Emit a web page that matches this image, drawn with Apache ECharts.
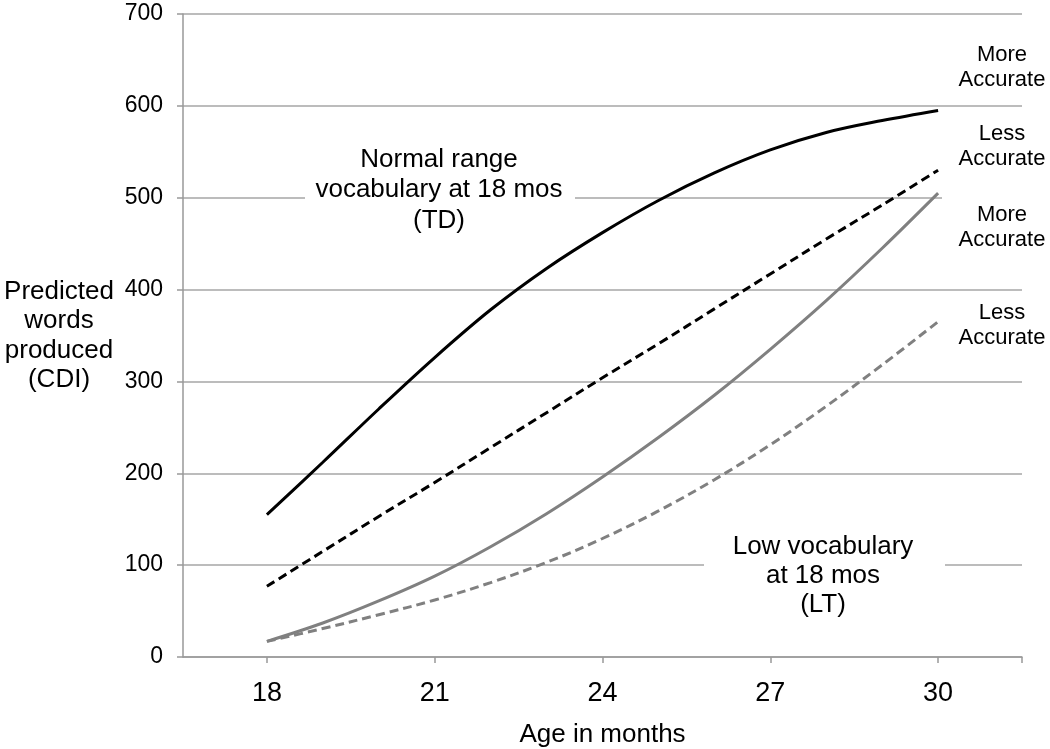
<!DOCTYPE html>
<html>
<head>
<meta charset="utf-8">
<script src="https://cdn.jsdelivr.net/npm/echarts@6/dist/echarts.min.js"></script>
<style>
  html, body { margin: 0; padding: 0; background: #fff; }
  #chart { width: 1050px; height: 749px; }
</style>
</head>
<body>
<div id="chart"></div>
<script>
// ---- Data ----
const months = [18, 19, 20, 21, 22, 23, 24, 25, 26, 27, 28, 29, 30];
const tdMoreAccurate = [155, 212, 270, 326, 378, 423, 462, 497, 527, 552, 571, 584, 595];
const tdLessAccurate = [77, 115, 153, 190, 228, 266, 304, 341, 379, 417, 455, 492, 530];
const ltMoreAccurate = [17, 37, 61, 88, 120, 156, 196, 239, 285, 335, 388, 445, 505];
const ltLessAccurate = [17, 31, 46, 62, 81, 103, 129, 159, 193, 231, 273, 318, 365];
const xTickLabels = [18, 21, 24, 27, 30];
const yTicks = [0, 100, 200, 300, 400, 500, 600, 700];

const FONT = "'Liberation Sans', Arial, sans-serif";
const pair = (ys) => months.map((m, i) => [m, ys[i]]);

const chart = echarts.init(document.getElementById('chart'), null, { renderer: 'canvas' });

function lineSeries(name, ys, color, dashed) {
  return {
    name, type: 'line', data: pair(ys), smooth: 0.35, showSymbol: false,
    lineStyle: { color, width: 3, type: dashed ? [9, 5] : 'solid' },
    z: 5, animation: false
  };
}

const option = {
  animation: false,
  backgroundColor: '#fff',
  textStyle: { fontFamily: FONT },
  grid: { left: 183, right: 28, top: 14, bottom: 92, containLabel: false, outerBoundsMode: 'none' },
  xAxis: {
    type: 'value', min: 16.5, max: 31.5,
    name: 'Age in months', nameLocation: 'middle', nameGap: 65,
    nameTextStyle: { fontFamily: FONT, fontSize: 26, color: '#000', verticalAlign: 'top' },
    axisLine: { show: true, lineStyle: { color: '#999', width: 1.5 } },
    axisTick: { show: true, length: 6, lineStyle: { color: '#999', width: 1.5 },
                customValues: [18, 21, 24, 27, 30, 31.5] },
    axisLabel: { customValues: xTickLabels, fontFamily: FONT, fontSize: 27, color: '#000', margin: 23 },
    splitLine: { show: false }
  },
  yAxis: {
    type: 'value', min: 0, max: 700, interval: 100,
    axisLine: { show: true, lineStyle: { color: '#999', width: 1.5 } },
    axisTick: { show: true, length: 6, lineStyle: { color: '#999', width: 1.5 } },
    axisLabel: { fontFamily: FONT, fontSize: 23, color: '#000', margin: 20,
                 formatter: (v) => yTicks.includes(v) ? String(v) : '' },
    splitLine: { show: true, lineStyle: { color: '#a6a6a6', width: 1.5 } }
  },
  series: [
    lineSeries('TD more accurate', tdMoreAccurate, '#000', false),
    lineSeries('TD less accurate', tdLessAccurate, '#000', true),
    lineSeries('LT more accurate', ltMoreAccurate, '#808080', false),
    lineSeries('LT less accurate', ltLessAccurate, '#808080', true)
  ],
  graphic: [
    // white gaps in gridlines behind annotations
    { type: 'rect', z: 3, shape: { x: 305, y: 190, width: 270, height: 16 }, style: { fill: '#fff' } },
    { type: 'rect', z: 3, shape: { x: 704, y: 557, width: 241, height: 16 }, style: { fill: '#fff' } },
    { type: 'rect', z: 3, shape: { x: 942, y: 190, width: 90, height: 16 }, style: { fill: '#fff' } },
    // y axis title
    { type: 'text', z: 10, x: 59, y: 336,
      style: { text: 'Predicted\nwords\nproduced\n(CDI)', fontFamily: FONT, fontSize: 26, lineHeight: 29.5,
               fill: '#000', align: 'center', verticalAlign: 'middle' } },
    // group annotations
    { type: 'text', z: 10, x: 439, y: 190,
      style: { text: 'Normal range\nvocabulary at 18 mos\n(TD)', fontFamily: FONT, fontSize: 26, lineHeight: 30.5,
               fill: '#000', align: 'center', verticalAlign: 'middle' } },
    { type: 'text', z: 10, x: 823, y: 576,
      style: { text: 'Low vocabulary\nat 18 mos\n(LT)', fontFamily: FONT, fontSize: 26, lineHeight: 29,
               fill: '#000', align: 'center', verticalAlign: 'middle' } },
    // right-side labels
    { type: 'text', z: 10, x: 1002, y: 67.5,
      style: { text: 'More\nAccurate', fontFamily: FONT, fontSize: 22, lineHeight: 25, fill: '#000', align: 'center', verticalAlign: 'middle' } },
    { type: 'text', z: 10, x: 1002, y: 146.5,
      style: { text: 'Less\nAccurate', fontFamily: FONT, fontSize: 22, lineHeight: 25, fill: '#000', align: 'center', verticalAlign: 'middle' } },
    { type: 'text', z: 10, x: 1002, y: 227.5,
      style: { text: 'More\nAccurate', fontFamily: FONT, fontSize: 22, lineHeight: 25, fill: '#000', align: 'center', verticalAlign: 'middle' } },
    { type: 'text', z: 10, x: 1002, y: 325.5,
      style: { text: 'Less\nAccurate', fontFamily: FONT, fontSize: 22, lineHeight: 25, fill: '#000', align: 'center', verticalAlign: 'middle' } }
  ]
};

chart.setOption(option);
</script>
</body>
</html>
